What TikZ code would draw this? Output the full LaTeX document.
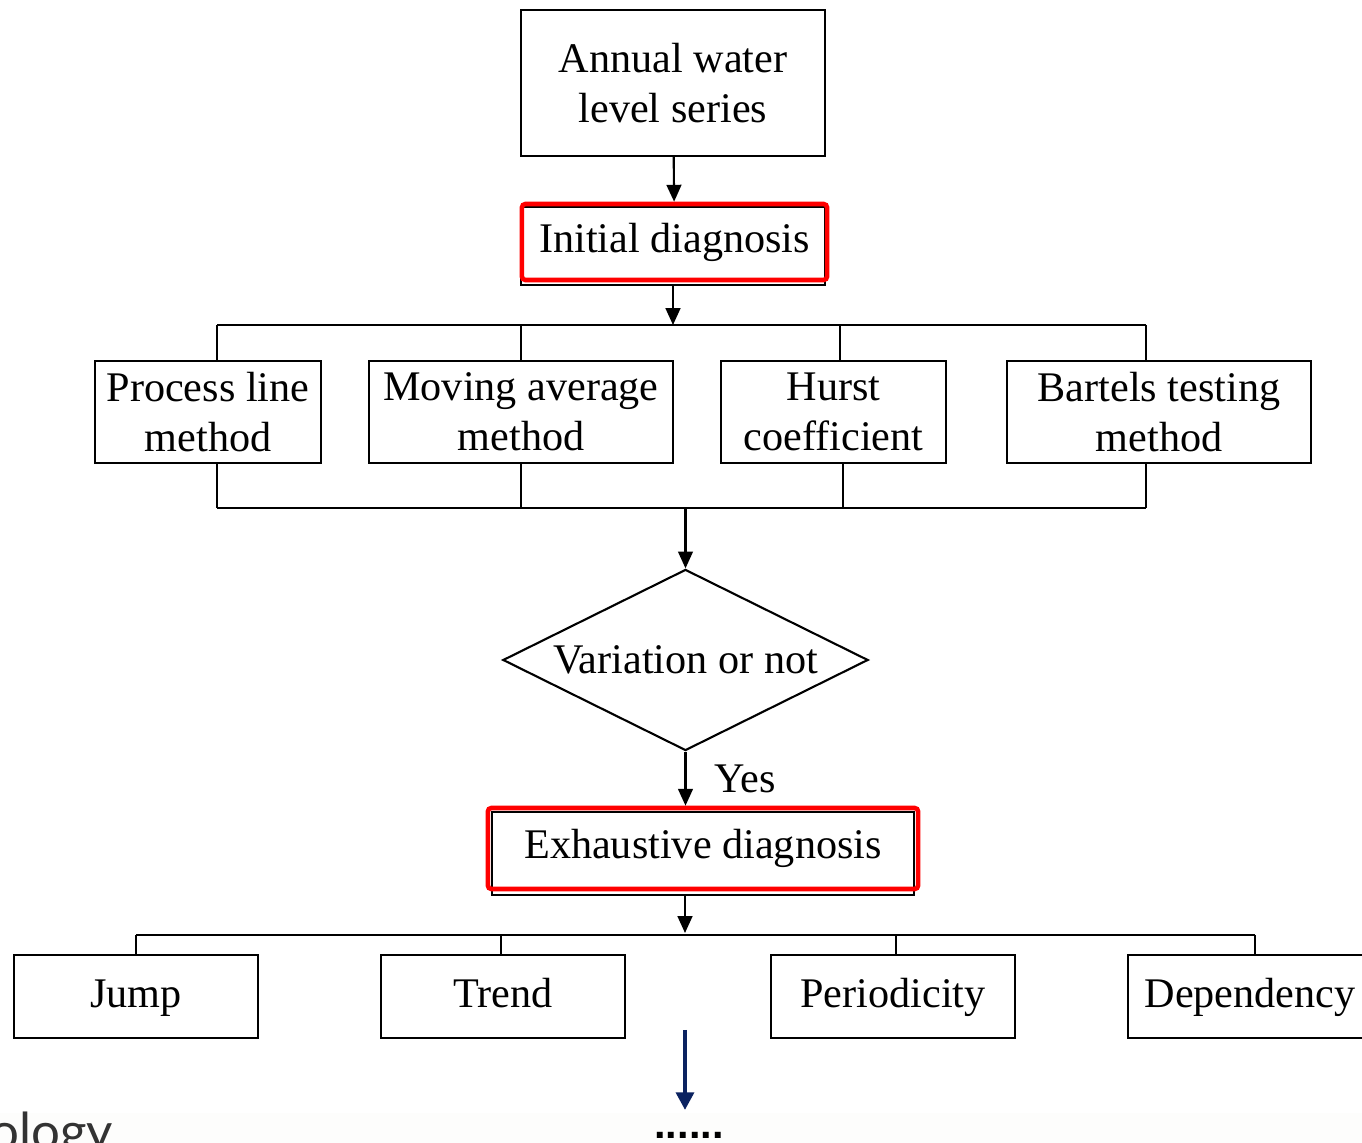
\documentclass[tikz,border=0pt]{standalone}
\usepackage{fontspec}
\setmainfont{Liberation Serif}
\newfontfamily\slidefont{Lato}
\newfontfamily\dotfont{Liberation Sans}
\usetikzlibrary{arrows.meta, positioning, shapes.geometric}
\definecolor{hlRed}{HTML}{FF0000}
\definecolor{navyArrow}{HTML}{0B2260}
\definecolor{bandGray}{HTML}{FDFDFC}

\begin{document}
\begin{tikzpicture}[x=0.01cm, y=-0.01cm,
    box/.style={draw, line width=0.6pt, fill=white, align=center, inner sep=0pt,
      font=\fontsize{12}{14.2}\selectfont},
    leaf/.style={box, minimum width=2.44cm, minimum height=0.83cm, text height=8.6pt, text depth=2.6pt},
    hl/.style={draw=hlRed, line width=1.3pt, rounded corners=1pt, inner sep=0pt,
      font=\fontsize{12}{14.2}\selectfont},
    flow/.style={line width=0.6pt, -{Triangle[width=4.2pt,length=4.8pt]}},
    bus/.style={line width=0.6pt}]
  \useasboundingbox (0,0) rectangle (1362,1143);
  \clip (0,0) rectangle (1362,1143);
  \fill[bandGray] (0,1113) rectangle (1362,1143);

  % initial diagnosis
  \node[box, minimum width=3.04cm, minimum height=1.46cm] (series) at (673,83) {Annual water\\level series};
  \node[box, minimum width=3.04cm, minimum height=0.78cm] (initial) at (673,246) {};
  \node[hl, minimum width=3.05cm, minimum height=0.76cm] (initialhl) at (674.5,242) {Initial diagnosis};
  \draw[flow] (series) -- (initialhl);

  \node[box, minimum width=2.26cm, minimum height=1.02cm] (proc) at (208,412) {Process line\\method};
  \node[box, minimum width=3.04cm, minimum height=1.02cm] (mov) at (521,412) {Moving average\\method};
  \node[box, minimum width=2.25cm, minimum height=1.02cm] (hurst) at (833.5,412) {Hurst\\coefficient};
  \node[box, minimum width=3.04cm, minimum height=1.02cm] (bart) at (1159,412) {Bartels testing\\method};

  \coordinate (topbus) at (673,325);
  \draw[flow] (initial) -- (topbus);
  \foreach \n/\x in {proc/217, mov/521, hurst/840, bart/1146} {
    \coordinate (t\n) at (\x,325);
    \draw[bus] (t\n) -- (t\n |- \n.north);
  }
  \draw[bus] (tproc) -- (tbart);
  \foreach \n/\x in {proc/217, mov/521, hurst/843, bart/1146} {
    \coordinate (b\n) at (\x,508);
    \draw[bus] (b\n) -- (b\n |- \n.south);
  }
  \draw[bus] (bproc) -- (bbart);

  % variation check
  \node[diamond, draw, line width=0.6pt, aspect=2, inner sep=0pt, minimum width=3.65cm,
    minimum height=1.81cm, font=\fontsize{12}{14.2}\selectfont] (vary) at (685.5,660) {Variation or not};
  \coordinate (midbus) at (685.5,508);
  \draw[flow] (midbus) -- (vary.north);

  % exhaustive diagnosis
  \node[box, minimum width=4.22cm, minimum height=0.83cm] (exh) at (703,853.5) {};
  \node[hl, minimum width=4.30cm, minimum height=0.81cm] (exhhl) at (703,848.5) {Exhaustive diagnosis};
  \draw[flow] (vary.south) -- (vary.south |- exhhl.north)
    node[midway, right=0.28cm, font=\fontsize{12}{14.2}\selectfont, inner sep=0pt] (yes) {Yes};

  \node[leaf] (jump) at (136,996.5) {Jump};
  \node[leaf] (trend) at (503,996.5) {Trend};
  \node[leaf] (period) at (893,996.5) {Periodicity};
  \node[leaf] (dep) at (1250,996.5) {Dependency};

  \coordinate (exbus) at (685,933);
  \draw[flow] (exbus |- exh.south) -- (exbus);
  \foreach \n/\x in {jump/136, trend/501, period/896, dep/1255} {
    \coordinate (e\n) at (\x,935);
    \draw[bus] (e\n) -- (e\n |- \n.north);
  }
  \draw[bus] (ejump) -- (edep);

  % slide leftovers
  \coordinate (more) at (685,1030);
  \coordinate (moreend) at (685,1110);
  \draw[navyArrow, line width=1.2pt, -{Triangle[width=5pt,length=5pt]}] (more) -- (moreend);
  \node[anchor=base, inner sep=0pt, font=\dotfont\bfseries\fontsize{11.8}{12}\selectfont] (dots) at (689,1139) {......};
  \node[anchor=base west, inner sep=0pt, text=black!80, font=\slidefont\fontsize{14.5}{16}\selectfont] (caption) at (-10,1150) {ology};
\end{tikzpicture}
\end{document}
